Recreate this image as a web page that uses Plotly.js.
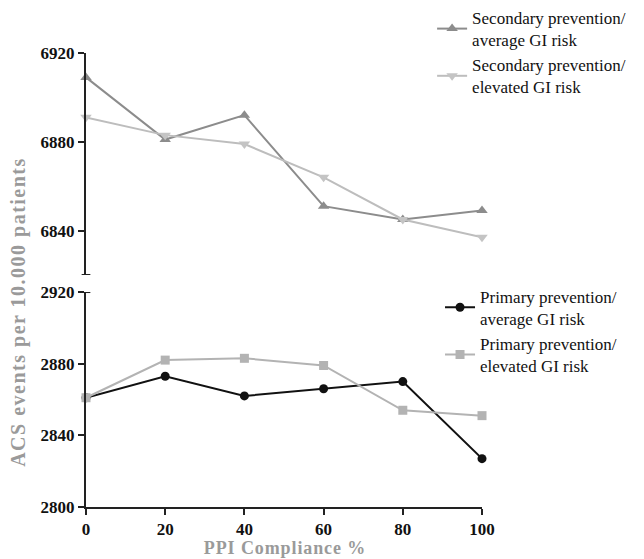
<!DOCTYPE html>
<html>
<head>
<meta charset="utf-8">
<script src="https://cdn.plot.ly/plotly-3.0.1.min.js"></script>
<style>
html,body{margin:0;padding:0;background:#fff;}
#chart{width:644px;height:559px;}
g.annotation[data-index="0"] text{letter-spacing:1.5px;}
g.annotation[data-index="1"] text{letter-spacing:0.9px;}
</style>
</head>
<body>
<div id="chart"></div>
<script>
const compliance = [0, 20, 40, 60, 80, 100];
const secAverage = [6909, 6881, 6892, 6851, 6845, 6849];
const secElevated = [6891, 6883, 6879, 6864, 6845, 6837];
const primAverage = [2861, 2873, 2862, 2866, 2870, 2827];
const primElevated = [2861, 2882, 2883, 2879, 2854, 2851];
const xTicks = [0, 20, 40, 60, 80, 100];
const upperTicks = [6840, 6880, 6920];
const lowerTicks = [2800, 2840, 2880, 2920];

const serif = 'Liberation Serif, Times New Roman, serif';

const traces = [
  {x: compliance, y: secAverage, yaxis: 'y2', name: 'Secondary prevention/<br>average GI risk', legend: 'legend',
   mode: 'lines+markers', line: {color: '#8c8c8c', width: 2}, marker: {symbol: 'triangle-up', size: 10, color: '#8c8c8c'}, cliponaxis: false},
  {x: compliance, y: secElevated, yaxis: 'y2', name: 'Secondary prevention/<br>elevated GI risk', legend: 'legend',
   mode: 'lines+markers', line: {color: '#bdbdbd', width: 2}, marker: {symbol: 'triangle-down', size: 10, color: '#c4c4c4'}, cliponaxis: false},
  {x: compliance, y: primAverage, yaxis: 'y', name: 'Primary prevention/<br>average GI risk', legend: 'legend2',
   mode: 'lines+markers', line: {color: '#111', width: 2}, marker: {symbol: 'circle', size: 9, color: '#111'}, cliponaxis: false},
  {x: compliance, y: primElevated, yaxis: 'y', name: 'Primary prevention/<br>elevated GI risk', legend: 'legend2',
   mode: 'lines+markers', line: {color: '#b3b3b3', width: 2}, marker: {symbol: 'square', size: 9, color: '#b3b3b3'}, cliponaxis: false}
];

const axisCommon = {
  showgrid: false, zeroline: false, showline: true, linecolor: '#222', linewidth: 2,
  ticks: 'outside', ticklen: 6, tickwidth: 2, tickcolor: '#222',
  tickfont: {family: serif, size: 17, color: '#111', weight: 'bold'}
};

const layout = {
  width: 644, height: 559,
  margin: {l: 86, r: 162, t: 0, b: 52},
  paper_bgcolor: '#fff', plot_bgcolor: '#fff',
  showlegend: true,
  xaxis: Object.assign({}, axisCommon, {range: [0, 100], tickvals: xTicks, anchor: 'y'}),
  yaxis: Object.assign({}, axisCommon, {range: [2800, 2920], tickvals: lowerTicks, domain: [0, 0.424], anchor: 'x'}),
  yaxis2: Object.assign({}, axisCommon, {range: [6820, 6920], tickvals: upperTicks, domain: [0.4576, 0.8955], anchor: 'x'}),
  legend: {x: 0.874, xanchor: 'left', y: 1, yanchor: 'top', font: {family: serif, size: 17, color: '#111'}, bgcolor: 'rgba(0,0,0,0)', tracegroupgap: 0},
  legend2: {x: 0.894, xanchor: 'left', y: 0.4505, yanchor: 'top', font: {family: serif, size: 17, color: '#111'}, bgcolor: 'rgba(0,0,0,0)', tracegroupgap: 0},
  shapes: [
    {type: 'line', xref: 'paper', yref: 'y2', x0: -0.011, x1: 0.011, y0: 6820, y1: 6820, line: {color: '#222', width: 2}},
    {type: 'line', xref: 'paper', yref: 'y', x0: 0, x1: 0.011, y0: 2920, y1: 2920, line: {color: '#222', width: 2}}
  ],
  annotations: [
    {text: 'ACS events per 10.000 patients', xref: 'paper', yref: 'paper', x: -0.205, y: 0.3846, textangle: -90,
     showarrow: false, font: {family: serif, size: 20, color: '#9a9a9a', weight: 'bold'}},
    {text: 'PPI Compliance %', xref: 'paper', yref: 'paper', x: 0.503, y: -0.057, yanchor: 'top',
     showarrow: false, font: {family: serif, size: 18, color: '#9a9a9a', weight: 'bold'}}
  ]
};

Plotly.newPlot('chart', traces, layout, {displayModeBar: false});
</script>
</body>
</html>
